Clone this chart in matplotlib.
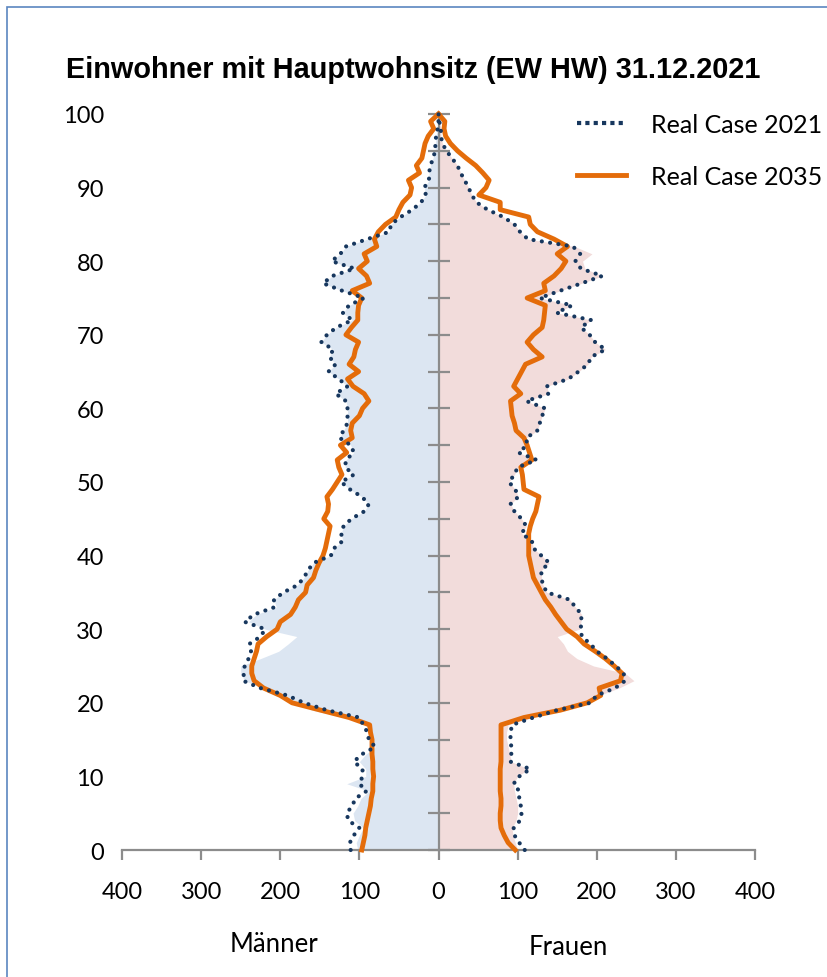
import matplotlib
matplotlib.use("Agg")
import matplotlib.pyplot as plt
from matplotlib.lines import Line2D
from matplotlib.patches import Rectangle
from matplotlib.ticker import MultipleLocator, FuncFormatter
import numpy as np

# ---------------- data (ages 0..100) ----------------
ages = list(range(101))

men_2021 = [111, 112, 107, 100, 114, 116, 109, 105, 91, 100,
            96, 96, 107, 97, 80, 88, 90, 95, 100, 141,
            170, 191, 225, 247, 246, 245, 240, 237, 239, 225,
            219, 245, 233, 207, 208, 196, 178, 170, 165, 158,
            136, 132, 121, 123, 120, 110, 94, 88, 97, 112,
            123, 107, 118, 117, 107, 111, 125, 120, 115, 115,
            115, 117, 130, 115, 126, 139, 130, 138, 133, 148,
            141, 129, 109, 121, 113, 94, 122, 146, 134, 106,
            135, 124, 117, 90, 62, 60, 48, 33, 22, 16,
            18, 12, 12, 10, 7, 4, 4, 3, 1, 0, 0]

men_2035 = [97, 95, 93, 92, 90, 88, 86, 85, 83, 83,
            82, 83, 83, 84, 84, 84, 86, 87, 113, 149,
            185, 200, 221, 233, 236, 236, 233, 230, 228, 217,
            204, 200, 187, 181, 177, 168, 166, 158, 155, 151,
            146, 143, 141, 139, 137, 145, 140, 139, 141, 134,
            128, 122, 126, 128, 116, 124, 109, 111, 109, 100,
            96, 88, 94, 108, 115, 101, 113, 107, 105, 101,
            117, 110, 102, 102, 101, 97, 109, 87, 91, 101,
            90, 94, 78, 81, 76, 67, 54, 50, 45, 36,
            34, 38, 24, 28, 21, 19, 17, 13, 6, 10, 0]

men_area = [102, 104, 100, 95, 106, 108, 102, 98, 88, 116,
            92, 92, 100, 92, 80, 85, 88, 92, 118, 160,
            180, 195, 222, 245, 250, 250, 225, 202, 190, 179,
            219, 240, 230, 205, 208, 196, 178, 170, 165, 158,
            136, 132, 121, 123, 120, 110, 94, 88, 97, 112,
            123, 107, 118, 117, 107, 111, 125, 120, 115, 115,
            115, 117, 130, 115, 126, 139, 130, 138, 133, 148,
            141, 129, 109, 121, 113, 94, 122, 146, 134, 106,
            135, 124, 117, 90, 62, 60, 48, 33, 22, 16,
            18, 12, 12, 10, 7, 4, 4, 3, 1, 0, 0]

women_2021 = [109, 102, 96, 95, 103, 105, 104, 102, 102, 95,
              102, 116, 91, 92, 92, 91, 91, 93, 120, 150,
              192, 200, 223, 236, 234, 224, 213, 200, 192, 181,
              180, 180, 181, 173, 166, 137, 132, 130, 130, 140,
              130, 120, 118, 105, 111, 105, 96, 91, 101, 97,
              89, 96, 100, 124, 101, 112, 111, 125, 128, 131,
              135, 111, 139, 137, 164, 177, 189, 193, 211, 198,
              191, 180, 193, 149, 169, 128, 154, 181, 207, 180,
              173, 179, 170, 113, 103, 96, 82, 62, 48, 42,
              38, 33, 28, 24, 17, 10, 5, 3, 3, 1, 0]

women_2035 = [97, 88, 83, 79, 78, 78, 79, 79, 78, 78,
              78, 78, 79, 79, 79, 79, 79, 79, 108, 154,
              188, 205, 203, 230, 232, 222, 211, 198, 184, 175,
              162, 155, 148, 142, 135, 130, 125, 120, 118, 116,
              114, 114, 114, 114, 116, 119, 123, 125, 127, 108,
              107, 106, 104, 118, 115, 112, 108, 98, 96, 93,
              92, 91, 104, 95, 100, 105, 110, 131, 120, 112,
              120, 131, 133, 134, 135, 112, 135, 133, 146, 155,
              161, 150, 163, 146, 125, 116, 114, 78, 78, 51,
              60, 64, 56, 47, 35, 24, 15, 9, 7, 8, 0]

women_area = [100, 97, 94, 93, 98, 100, 100, 98, 96, 95,
              100, 114, 92, 90, 88, 86, 86, 88, 118, 150,
              190, 203, 228, 247, 236, 196, 175, 163, 158, 150,
              178, 180, 181, 173, 166, 137, 132, 130, 130, 140,
              130, 120, 118, 105, 111, 105, 96, 91, 101, 97,
              89, 96, 100, 124, 101, 112, 111, 125, 128, 131,
              135, 111, 139, 137, 164, 177, 189, 193, 211, 198,
              191, 180, 193, 149, 169, 128, 154, 181, 207, 185,
              182, 194, 172, 113, 103, 96, 82, 62, 48, 42,
              38, 33, 28, 24, 17, 10, 5, 3, 3, 1, 0]

x_ticks = [-400, -300, -200, -100, 0, 100, 200, 300, 400]
y_ticks = list(range(0, 101, 10))
title = "Einwohner mit Hauptwohnsitz (EW HW) 31.12.2021"
legend_labels = ["Real Case 2021", "Real Case 2035"]
side_labels = ["Männer", "Frauen"]

# ---------------- styling ----------------
W, H = 827, 978
BLUE_FILL = "#DCE6F2"
PINK_FILL = "#F2DCDB"
NAVY = "#17375E"
ORANGE = "#E46C0A"
GRAY = "#8C8C8C"
FONT = "Lato"

fig = plt.figure(figsize=(W / 100, H / 100), dpi=100)
fig.patch.set_facecolor("white")

ax = fig.add_axes([122 / W, 1 - 851 / H, (755 - 122) / W, (851 - 115) / H])
ax.set_xlim(-400, 400)
ax.set_ylim(0, 100)

a = np.array(ages)
m21 = -np.array(men_2021)
m35 = -np.array(men_2035)
mA = -np.array(men_area)
w21 = np.array(women_2021)
w35 = np.array(women_2035)
wA = np.array(women_area)

ax.fill_betweenx(a, 0, mA, color=BLUE_FILL, lw=0, zorder=1)
ax.fill_betweenx(a, 0, wA, color=PINK_FILL, lw=0, zorder=1)

ax.plot(m35, a, color=ORANGE, lw=3.5, solid_joinstyle="round", zorder=3, clip_on=False)
ax.plot(w35, a, color=ORANGE, lw=3.5, solid_joinstyle="round", zorder=3, clip_on=False)
dot = (0, (0.01, 2.0))
ax.plot(m21, a, color=NAVY, lw=3.0, linestyle=dot, dash_capstyle="round", zorder=4, clip_on=False)
ax.plot(w21, a, color=NAVY, lw=3.0, linestyle=dot, dash_capstyle="round", zorder=4, clip_on=False)

# spines
for s in ["top", "left"]:
    ax.spines[s].set_visible(False)
ax.spines["right"].set_position(("data", 0))
ax.spines["right"].set_color(GRAY)
ax.spines["right"].set_linewidth(1.6)
ax.spines["right"].set_zorder(2)
ax.spines["bottom"].set_color(GRAY)
ax.spines["bottom"].set_linewidth(1.6)

# y ticks: labels left, tick marks on the centre axis
ax.yaxis.set_major_locator(MultipleLocator(10))
ax.yaxis.set_minor_locator(MultipleLocator(5))
ax.set_yticks(y_ticks)
ax.tick_params(axis="y", which="both", left=False, right=True, labelleft=True,
               labelright=False, direction="inout", length=16, width=1.6,
               color=GRAY, pad=5)
ax.tick_params(axis="y", which="major", labelsize=17, labelcolor="black")

ax.set_xticks(x_ticks)
ax.xaxis.set_major_formatter(FuncFormatter(lambda v, p: f"{abs(int(v))}"))
ax.tick_params(axis="x", which="both", direction="out", length=7, width=1.6,
               color=GRAY, pad=15, labelsize=17)
ax.tick_params(axis="x", which="minor", bottom=False)
for lab in ax.get_xticklabels() + ax.get_yticklabels():
    lab.set_fontfamily(FONT)

ax.set_facecolor("none")

# title
fig.text(66 / W, 1 - 78 / H, title, fontsize=20.8, fontweight="bold",
         family="Liberation Sans", ha="left", va="baseline")

# side labels
fig.text(274 / W, 1 - 945 / H, side_labels[0], fontsize=18.5, family=FONT,
         ha="center", va="center")
fig.text(568 / W, 1 - 948 / H, side_labels[1], fontsize=18.5, family=FONT,
         ha="center", va="center")

# legend
h1 = Line2D([], [], color=NAVY, lw=3.0, linestyle=(0, (1, 1)), dash_capstyle="butt")
h2 = Line2D([], [], color=ORANGE, lw=3.5)
leg = fig.legend([h1, h2], legend_labels, loc="upper left",
                 bbox_to_anchor=(577 / W, 1 - 114 / H), frameon=False,
                 prop={"family": FONT, "size": 18}, handlelength=1.95,
                 handletextpad=1.0, labelspacing=1.15, borderpad=0,
                 borderaxespad=0)

# outer chart border
fig.add_artist(Rectangle((7 / W, -0.05), 1.2, (1 - 8 / H) + 0.05,
                         transform=fig.transFigure, fill=False,
                         edgecolor="#5B86C0", lw=1.2, zorder=0))

fig.savefig("out.png", dpi=100)
